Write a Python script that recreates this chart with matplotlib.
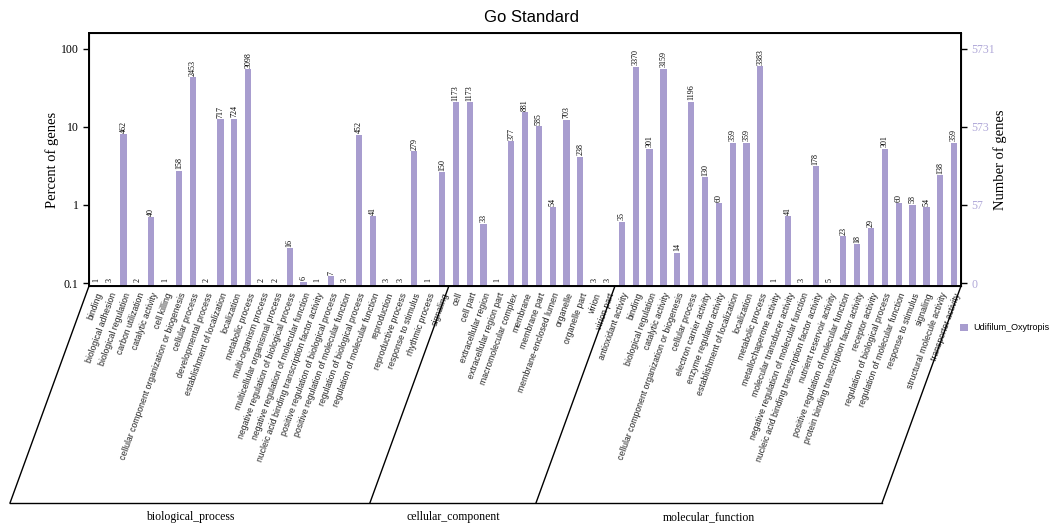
import matplotlib
matplotlib.use('Agg')
import matplotlib.pyplot as plt
import numpy as np
from matplotlib.lines import Line2D

# data
bp_terms = ['binding', 'biological adhesion', 'biological regulation', 'carbon utilization',
            'catalytic activity', 'cell killing', 'cellular component organization or biogenesis',
            'cellular process', 'developmental process', 'establishment of localization',
            'localization', 'metabolic process', 'multi-organism process',
            'multicellular organismal process', 'negative regulation of biological process',
            'negative regulation of molecular function',
            'nucleic acid binding transcription factor activity',
            'positive regulation of biological process', 'positive regulation of molecular function',
            'regulation of biological process', 'regulation of molecular function', 'reproduction',
            'reproductive process', 'response to stimulus', 'rhythmic process', 'signaling']
bp_counts = [1, 3, 462, 2, 40, 1, 158, 2453, 2, 717, 724, 3098, 2, 2, 16, 6, 1, 7, 3,
             452, 41, 3, 3, 279, 1, 150]

cc_terms = ['cell', 'cell part', 'extracellular region', 'extracellular region part',
            'macromolecular complex', 'membrane', 'membrane part', 'membrane-enclosed lumen',
            'organelle', 'organelle part', 'virion', 'virion part']
cc_counts = [1173, 1173, 33, 1, 377, 881, 585, 54, 703, 238, 3, 3]

mf_terms = ['antioxidant activity', 'binding', 'biological regulation', 'catalytic activity',
            'cellular component organization or biogenesis', 'cellular process',
            'electron carrier activity', 'enzyme regulator activity',
            'establishment of localization', 'localization', 'metabolic process',
            'metallochaperone activity', 'molecular transducer activity',
            'negative regulation of molecular function',
            'nucleic acid binding transcription factor activity', 'nutrient reservoir activity',
            'positive regulation of molecular function',
            'protein binding transcription factor activity', 'receptor activity',
            'regulation of biological process', 'regulation of molecular function',
            'response to stimulus', 'signaling', 'structural molecule activity',
            'transporter activity']
mf_counts = [35, 3370, 301, 3159, 14, 1196, 130, 60, 359, 359, 3383, 1, 41, 3, 178, 5, 23,
             18, 29, 301, 60, 58, 54, 138, 359]

groups = ['biological_process', 'cellular_component', 'molecular_function']
total_genes = 5731
right_ticks = [5731, 573, 57, 0]
series_name = 'Udifilum_Oxytropis'

terms = bp_terms + cc_terms + mf_terms
counts = np.array(bp_counts + cc_counts + mf_counts)
pct = counts / total_genes * 100
x = np.arange(len(terms))

W, H = 1062, 525
fig = plt.figure(figsize=(W / 100, H / 100), dpi=100)
ax = fig.add_axes([89 / W, 1 - 286 / H, (961 - 89) / W, (286 - 33) / H])

bar_col = '#a89dcf'
bars = ax.bar(x, pct, width=0.45, color=bar_col, label=series_name, zorder=2)
ax.set_yscale('log')
ax.set_ylim(0.092, 158)
ax.set_xlim(-0.5, len(terms) - 0.5)

for xi, p, c in zip(x, pct, counts):
    ax.text(xi, max(p, 0.1) * 1.04, str(c), rotation=90, ha='center', va='bottom',
            fontsize=5.8, family='Liberation Serif')

ax.set_yticks([0.1, 1, 10, 100])
ax.set_yticklabels(['0.1', '1', '10', '100'], family='Liberation Serif', fontsize=8.5)
ax.minorticks_off()
ax.set_ylabel('Percent of genes', family='Liberation Serif', fontsize=10.5, labelpad=1)
ax.set_xticks(x)
ax.set_xticklabels(terms, rotation=70, ha='right', va='top', rotation_mode='anchor',
                   fontsize=6.2, family='Liberation Sans', color='#222222')
ax.tick_params(axis='x', length=0, pad=4)
ax.tick_params(axis='y', length=4, width=1, direction='out')
for s in ax.spines.values():
    s.set_linewidth(1.4)

ax2 = ax.twinx()
ax2.set_yscale('log')
ax2.set_ylim(ax.get_ylim())
ax2.set_yticks([100, 10, 1, 0.1])
ax2.set_yticklabels([str(t) for t in right_ticks], family='Liberation Serif', fontsize=8.5,
                    color='#b0a8d8')
ax2.minorticks_off()
ax2.tick_params(axis='y', length=4, width=1, direction='out')
ax2.set_ylabel('Number of genes', family='Liberation Serif', fontsize=10.5, labelpad=-1)

fig.suptitle('Go Standard', y=1 - 17 / H, va='center', fontsize=12, family='Liberation Sans')

# slanted group separators under the axis
fig.canvas.draw()
y_top = 286
y_bot = 503
dx = -79
bounds = [-0.5, len(bp_terms) - 0.5, len(bp_terms) + len(cc_terms) - 0.5, len(terms) - 0.5]
tops = [ax.transData.transform((b, 1))[0] for b in bounds]
bots = [t + dx for t in tops]
for t, b in zip(tops, bots):
    fig.add_artist(Line2D([t / W, b / W], [1 - y_top / H, 1 - y_bot / H], color='black', lw=1))
fig.add_artist(Line2D([bots[0] / W, bots[-1] / W], [1 - y_bot / H, 1 - y_bot / H],
                      color='black', lw=1))
for i, g in enumerate(groups):
    xm = (bots[i] + bots[i + 1]) / 2
    fig.text(xm / W, 1 - 517 / H, g, ha='center', va='center', fontsize=8.5,
             family='Liberation Serif')

fig.legend(handles=[bars], loc='center left', bbox_to_anchor=(952 / W, 1 - 328 / H),
           frameon=False, handlelength=0.9, handleheight=0.9, handletextpad=0.5,
           prop={'family': 'Liberation Sans', 'size': 6.5})

fig.savefig('out.png', dpi=100)
